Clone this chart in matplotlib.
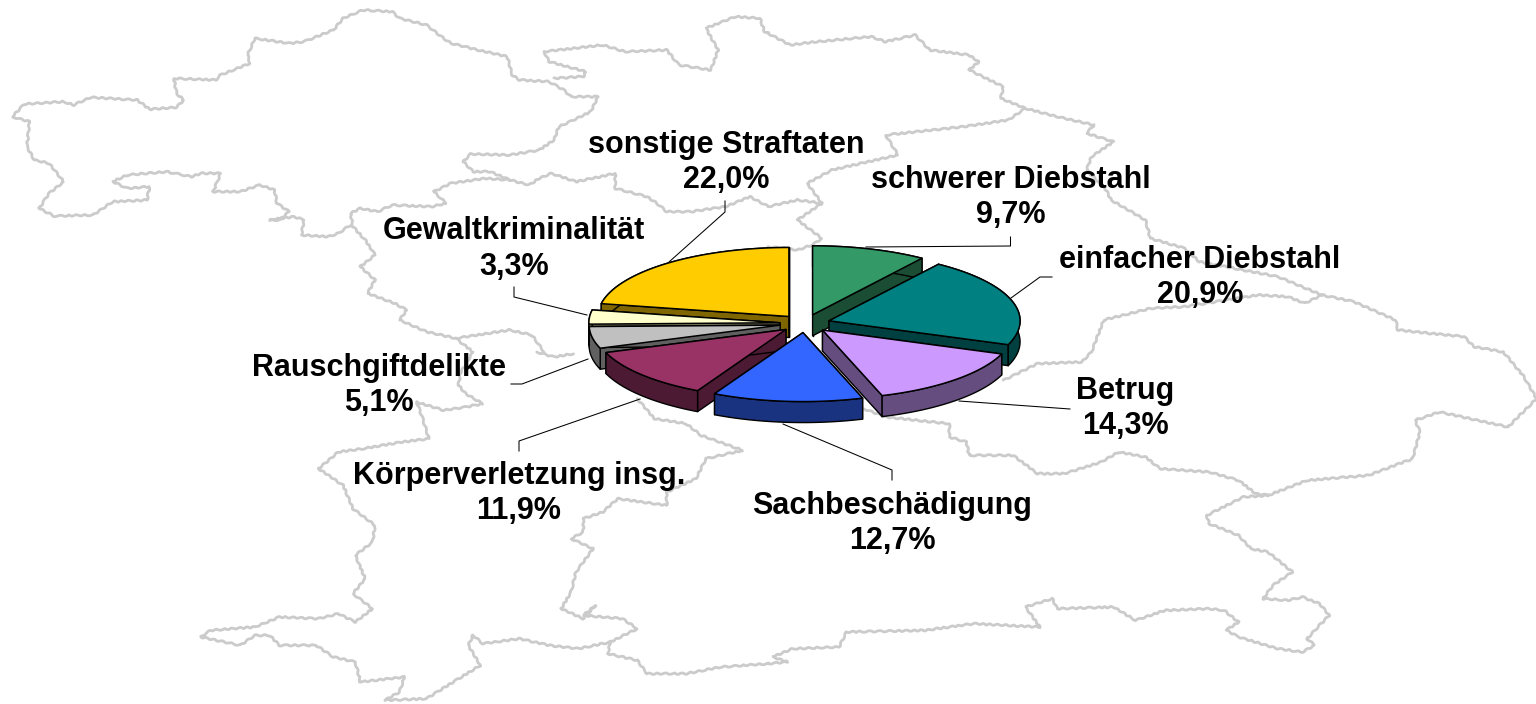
import numpy as np
import matplotlib
matplotlib.use("Agg")
import matplotlib.pyplot as plt
from matplotlib.patches import Polygon

# ---- data ----
categories = ["schwerer Diebstahl", "einfacher Diebstahl", "Betrug", "Sachbeschädigung",
              "Körperverletzung insg.", "Rauschgiftdelikte", "Gewaltkriminalität", "sonstige Straftaten"]
values = [9.7, 20.9, 14.3, 12.7, 11.9, 5.1, 3.3, 22.0]
top_colors = ["#339966", "#008080", "#CC99FF", "#3366FF", "#993366", "#C0C0C0", "#FFFFCC", "#FFCC00"]
side_colors = ["#1A4D33", "#004040", "#664D80", "#1A3380", "#4D1A33", "#606060", "#808066", "#806600"]

# label layout: centre x, y of first line, y of second line
label_pos = [(1011, 180, 215), (1200, 260, 295), (1125, 391, 426), (892, 506, 541),
             (519, 476, 511), (379, 368, 403), (514, 231, 267), (726, 145, 180)]
leaders = [[(1010.5, 237), (1010.5, 246), (866, 247)],
           [(1052, 277), (1040, 277), (1011, 298)],
           [(1070, 409), (959, 401)],
           [(892, 480), (892, 470), (783, 424)],
           [(519, 451), (519, 441), (640, 399)],
           [(511, 384), (522, 384), (588, 359)],
           [(514, 287), (514, 297), (587, 315)],
           [(725, 201), (725, 212), (669, 262)]]

map_parts = [
 (0, 0, [(1568,620),(1530,590),(1480,620),(1410,635),(1360,635),(1340,610),(1320,590),(1255,565),(1255,520),(1225,530),(1175,545),
         (1125,520),(1100,535),(1080,555),(1040,540),(1000,515),(965,515),(945,485),(960,462),(1040,465),(1100,450),(1130,420),
         (1140,380),(1170,360),(1205,335),(1220,290),(1165,290),(1150,270),(1120,245),(1060,240),(1045,225),(1035,170),(975,150),
         (920,130),(905,115),(870,75),(815,55),(800,35),(740,30),(700,55),(680,90),(620,125),(590,130),(520,115),(505,165),(510,190),
         (450,225),(440,240),(355,235),(360,280),(375,300),(360,322),(305,328),(280,300),(185,292),(150,315),(130,305),(50,312),
         (25,350),(60,365),(55,440),(70,480),(100,490),(130,545),(100,580),(80,625),(110,648),(190,645),(230,605),(300,600),(305,560),
         (260,565),(230,545),(260,525),(340,515),(390,530),(410,520),(450,520),(435,575),(490,575),(530,555),(560,570),(565,610),
         (590,635),(570,660),(550,660),(600,650),(620,660),(615,705),(670,710),(690,700),(715,675)]),
 (0, 0, [(1040,540),(990,535),(920,550),(885,575),(910,610),(880,620),(800,615),(770,635),(735,625),(715,640),(720,680),(745,720),
         (765,765),(735,800),(765,840),(750,880),(805,910),(830,930),(815,960),(870,995),(930,1015),(965,1056)]),
 (0, 0, [(930,1015),(1040,990),(1085,1005),(1110,1056)]),
 (0, 0, [(1110,155),(1230,135),(1275,155),(1360,150),(1385,195),(1450,210),(1465,150),(1440,85),(1500,50),(1550,55),(1560,95),(1568,100)]),
 (0, 0, [(1110,155),(1120,185),(1195,215),(1190,230),(1130,235)]),
 (768, 0, [(0,100),(45,135),(100,125),(210,110),(240,125),(300,105),(330,150),(410,165),(430,185),(410,210),(480,260),(475,295),
           (525,325),(590,350),(665,375),(650,400),(705,425),(660,470),(650,510),(690,570),(700,600),(770,660),(780,715),(850,745),
           (880,785),(1040,830),(1130,885),(1195,905),(1280,960),(1285,990),(1350,1000),(1420,1010),(1440,1040),(1500,1056)]),
 (768, 0, [(525,325),(490,360),(400,380),(240,405),(265,465),(130,510),(80,550),(110,610),(60,660),(110,715),(90,735)]),
 (768, 0, [(0,620),(60,600),(110,610)]),
 (768, 0, [(0,740),(60,750),(90,735)]),
 (768, 0, [(660,1056),(685,960),(780,925),(850,920),(1000,885),(1060,890),(1095,910),(1130,885)]),
 (0, 352, [(965,0),(940,60),(935,100),(950,125),(985,155),(950,165),(905,175),(850,150),(860,190),(875,260),(820,270),(740,290),
           (690,300),(650,350),(700,400),(720,470),(765,520),(760,570),(725,610),(745,680),(720,725),(760,770),(725,810),(690,785),
           (650,800),(570,795),(520,825),(430,835),(410,855),(490,880),(520,850),(550,850),(570,880),(645,880),(680,915),(725,930),
           (735,990),(825,975),(815,1020),(785,1045),(870,1040),(930,985),(980,940),(955,880),(965,850),(985,875),(1060,860),(1120,880),
           (1180,890),(1245,870),(1240,905),(1300,925),(1320,965),(1400,965),(1470,945),(1568,935)]),
 (0, 352, [(1095,0),(1130,15),(1170,5)]),
 (0, 352, [(1300,140),(1335,200),(1400,215),(1430,250),(1515,295),(1440,320),(1420,380),(1360,420),(1360,460),(1260,440),(1230,480),
           (1190,500),(1190,540),(1165,560),(1210,590),(1175,660),(1165,720),(1145,770),(1190,800),(1215,760),(1190,790),(1270,800),
           (1300,830),(1245,870)]),
 (768, 352, [(0,935),(40,930),(10,915),(50,890),(145,885),(160,840),(320,835),(420,815),(555,825),(525,765),(580,740),(590,770),
             (705,765),(750,805),(810,775),(900,770),(930,775),(960,810),(935,835),(960,855),(1040,890),(1090,900),(1115,880),(1100,860),
             (1125,820),(1145,790),(1125,755),(1090,735),(1060,745),(1010,740),(1030,700),(1070,660),(1020,600),(985,590),(960,550),
             (900,515),(895,490),(970,435),(1020,430),(1100,385),(1225,370),(1315,320),(1330,240),(1320,205),(1370,180),(1510,225),
             (1530,195),(1568,140),(1540,70),(1500,0)]),
 (768, 352, [(195,170),(240,195),(370,215),(370,255),(405,270),(410,310),(500,310),(550,365),(605,365),(680,330),(715,300),(770,315),
             (800,350),(900,360),(960,385),(995,425),(1020,430)]),
 (768, 352, [(660,0),(640,30),(550,35),(480,85)]),
]

# ---- figure in pixel coordinates ----
fig = plt.figure(figsize=(15.36, 7.04), dpi=100, facecolor="white")
ax = fig.add_axes([0, 0, 1, 1])
ax.set_xlim(0, 1536)
ax.set_ylim(704, 0)
ax.axis("off")

for ox, oy, pts in map_parts:
    p = np.array(pts, float)
    ln, = ax.plot(ox + p[:, 0] / 2.04, oy + p[:, 1] / 3.0, color="#CBCBCB", lw=2.0,
                  solid_joinstyle="round", solid_capstyle="round", zorder=1)
    ln.set_sketch_params(scale=0.7, length=9, randomness=2)

# ---- exploded 3D pie ----
CX, CY, RX, RY, EXPLODE, DEPTH = 805, 323.5, 191, 69, 0.132, 21
vals = np.array(values)
edges = np.concatenate([[0], np.cumsum(vals)]) / vals.sum() * 2 * np.pi
mids = (edges[:-1] + edges[1:]) / 2

def slice_outline(i):
    ax_x = CX + EXPLODE * RX * np.sin(mids[i])
    ax_y = CY - EXPLODE * RY * np.cos(mids[i])
    t = np.linspace(edges[i], edges[i + 1], 80)
    return (ax_x, ax_y), np.column_stack([ax_x + RX * np.sin(t), ax_y - RY * np.cos(t)])

down = np.array([0, DEPTH])
for i in np.argsort(-np.cos(mids)):
    apex, arc = slice_outline(i)
    apex = np.array(apex)
    kw = dict(facecolor=side_colors[i], edgecolor="black", lw=1.0, joinstyle="round", zorder=3)
    ax.add_patch(Polygon([apex, arc[0], arc[0] + down, apex + down], **kw))
    ax.add_patch(Polygon([apex, arc[-1], arc[-1] + down, apex + down], **kw))
    ax.add_patch(Polygon(np.vstack([arc, (arc + down)[::-1]]), **kw))
    ax.add_patch(Polygon(np.vstack([apex, arc]), facecolor=top_colors[i], edgecolor="black",
                         lw=1.1, joinstyle="round", zorder=3))

# ---- labels and leader lines ----
for name, v, (x, y1, y2), lead in zip(categories, values, label_pos, leaders):
    tk = dict(ha="center", va="center", family="Liberation Sans", fontweight="bold",
              fontsize=22, color="black", zorder=5)
    ax.text(x, y1, name, **tk)
    ax.text(x, y2, f"{v:.1f}".replace(".", ",") + "%", **tk)
    q = np.array(lead)
    ax.plot(q[:, 0], q[:, 1], color="black", lw=0.75, zorder=2.5)

fig.savefig("out.png", dpi=100, facecolor="white")
